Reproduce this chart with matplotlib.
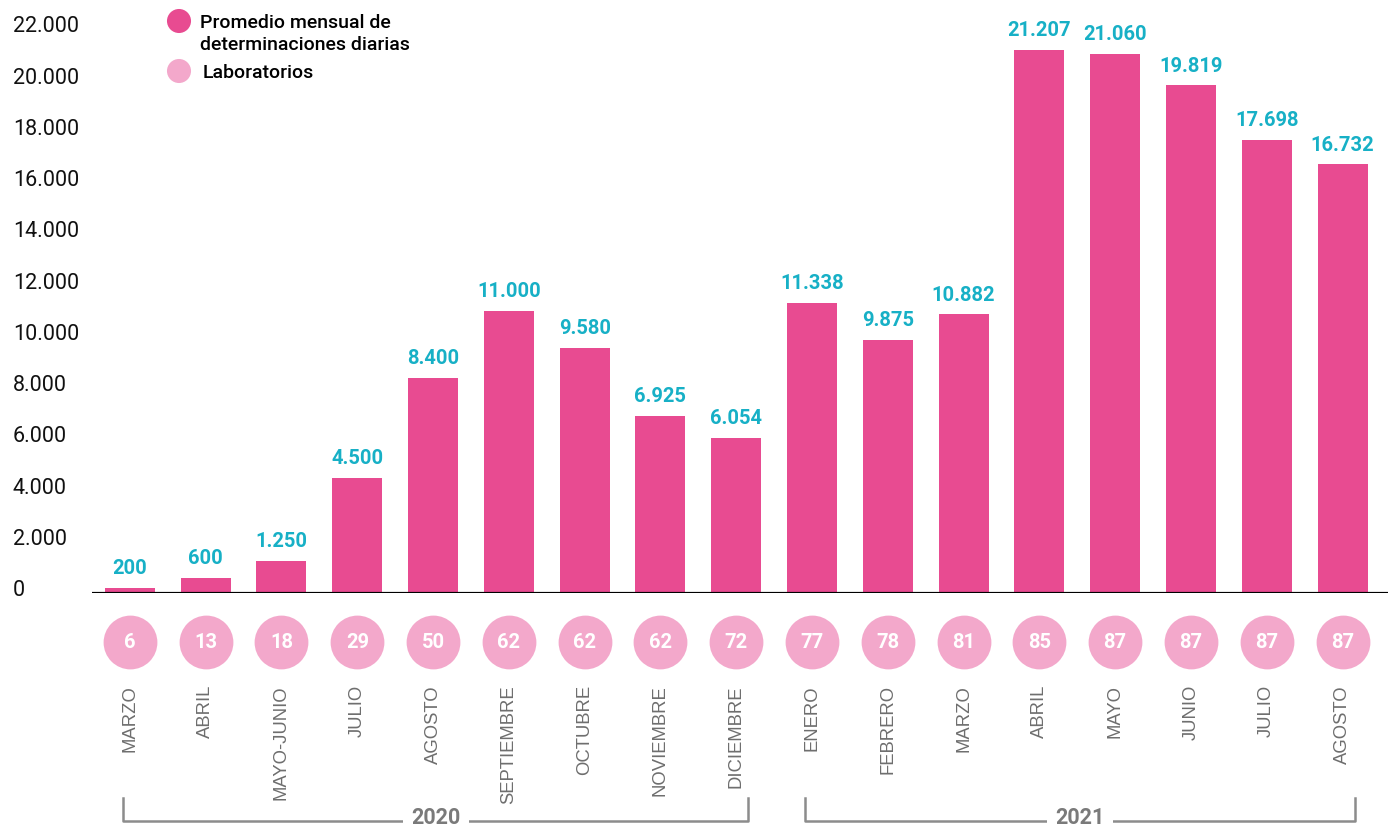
import matplotlib.pyplot as plt
from matplotlib.transforms import blended_transform_factory, ScaledTranslation

meses = ["MARZO", "ABRIL", "MAYO-JUNIO", "JULIO", "AGOSTO", "SEPTIEMBRE",
         "OCTUBRE", "NOVIEMBRE", "DICIEMBRE", "ENERO", "FEBRERO", "MARZO",
         "ABRIL", "MAYO", "JUNIO", "JULIO", "AGOSTO"]
determinaciones = [200, 600, 1250, 4500, 8400, 11000, 9580, 6925, 6054,
                   11338, 9875, 10882, 21207, 21060, 19819, 17698, 16732]
laboratorios = [6, 13, 18, 29, 50, 62, 62, 62, 72, 77, 78, 81, 85, 87, 87, 87, 87]
anios = ["2020", "2021"]
anio_rangos = [(0, 8), (9, 16)]
yticks = list(range(0, 22001, 2000))

ROSA = "#E84B91"
ROSA_CLARO = "#F3A8CB"
CIAN = "#17B0C6"
GRIS = "#6E6E6E"


def fmt(v):
    return f"{v:,}".replace(",", ".")


W, H = 1388, 827
fig = plt.figure(figsize=(W / 100, H / 100), dpi=100)
ax = fig.add_axes([92 / W, (H - 593) / H, 1 - 92 / W, 593 / H])

x = list(range(len(meses)))
ax.bar(x, determinaciones, width=0.66, color=ROSA, zorder=2)
ax.set_xlim(-0.5, 16.6)
ax.set_ylim(0, 23150)
ax.axhline(0, color="black", lw=2.3, zorder=3)

for i, v in enumerate(determinaciones):
    ax.text(i, v + 380, fmt(v), ha="center", va="bottom", color=CIAN,
            fontsize=14.5, fontweight="bold", family="Roboto")

ax.set_xticks([])
ax.set_yticks(yticks)
ax.set_yticklabels([fmt(t) for t in yticks], ha="left", family="Roboto",
                   fontsize=15.5, color="#111111")
ax.tick_params(axis="y", length=0, pad=57)
subir = ScaledTranslation(0, 5 / 100, fig.dpi_scale_trans)
for lab in ax.get_yticklabels():
    lab.set_transform(lab.get_transform() + subir)
for s in ax.spines.values():
    s.set_visible(False)

# circulos de laboratorios y etiquetas de meses
tr = blended_transform_factory(ax.transData, fig.transFigure)
ax.scatter(x, [1 - 642 / H] * len(x), s=1500, color=ROSA_CLARO,
           transform=tr, clip_on=False, zorder=3, linewidths=0)
for i, n in enumerate(laboratorios):
    ax.text(i, 1 - 643 / H, str(n), transform=tr, ha="center", va="center",
            color="white", fontsize=14.5, fontweight="bold", family="Roboto")
    ax.text(i, 1 - 685 / H, meses[i], transform=tr, ha="center", va="top",
            rotation=90, color=GRIS, fontsize=13.3, family="Liberation Sans")

# llaves de los años
for anio, (a, b) in zip(anios, anio_rangos):
    x0, x1 = a - 0.09, b + 0.16
    ytop, ybot = 1 - 798 / H, 1 - 821 / H
    ax.plot([x0, x0, x1, x1], [ytop, ybot, ybot, ytop], color="#8C8C8C",
            lw=1.8, transform=tr, clip_on=False)
    ax.text((x0 + x1) / 2, 1 - 818 / H, anio, transform=tr, ha="center",
            va="center", color="#7A7A7A", fontsize=15.5, fontweight="bold",
            family="Roboto",
            bbox=dict(facecolor="white", edgecolor="none", pad=6))

# leyenda
lg = fig.add_axes([0, 0, 1, 1], facecolor="none")
lg.set_xlim(0, W)
lg.set_ylim(H, 0)
lg.axis("off")
lg.scatter([179, 179], [21, 71], s=300, color=[ROSA, ROSA_CLARO], linewidths=0)
lg.text(200, 34, "Promedio mensual de\ndeterminaciones diarias", va="center",
        ha="left", fontsize=14, fontweight="medium", family="Roboto",
        linespacing=1.25)
lg.text(203, 73, "Laboratorios", va="center", ha="left", fontsize=14,
        fontweight="medium", family="Roboto")

fig.savefig("out.png", dpi=100)
